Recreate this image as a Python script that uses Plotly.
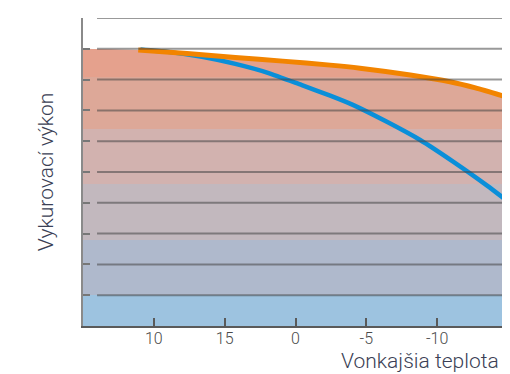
import plotly.graph_objects as go

# outdoor temperature positions (axis units) and tick labels
tick_pos = [1, 2, 3, 4, 5, 6]
tick_text = ['10', '15', '0', '-5', '-10', '-15']

# heating output curves
orange_x = [0.78, 1.47, 2.15, 2.82, 3.49, 3.91, 4.62, 5.18, 5.54, 6.0]
orange_y = [8.96, 8.85, 8.72, 8.60, 8.47, 8.37, 8.15, 7.93, 7.73, 7.42]
blue_x = [0.81, 1.20, 1.68, 2.15, 2.61, 3.09, 3.49, 3.81, 4.29, 4.76, 5.23, 5.71, 6.0]
blue_y = [8.98, 8.90, 8.74, 8.51, 8.22, 7.82, 7.48, 7.18, 6.63, 6.04, 5.33, 4.55, 4.04]

# flat part of the area left of the curves
area_start_x = 0
area_start_y = 9.0

# colour bands of the area (bottom edge, colour)
band_edges = [0, 1.0, 2.8, 4.6, 6.4, 8.1, 9.0]
band_colors = ['#9DC3E0', '#AFB9CC', '#C2B8BE', '#D2B2AF', '#DDA898', '#E5A18D']

grid_levels = [1, 2, 3, 4, 5, 6, 7, 8, 9, 10]

#build a stepped colorscale from the bands
top = band_edges[-1]
cscale = []
for i in range(len(band_colors)):
    cscale.append([band_edges[i] / top, band_colors[i]])
    cscale.append([band_edges[i + 1] / top, band_colors[i]])

fig = go.Figure()

fig.add_trace(go.Scatter(
    x=[area_start_x] + orange_x, y=[area_start_y] + orange_y,
    mode='lines', line=dict(width=0, shape='spline', smoothing=0.6),
    fill='tozeroy',
    fillgradient=dict(type='vertical', colorscale=cscale, start=0, stop=top),
    hoverinfo='skip', showlegend=False))

fig.add_trace(go.Scatter(x=blue_x, y=blue_y, mode='lines',
                         line=dict(color='#0A8FD9', width=4.5, shape='spline', smoothing=0.6),
                         showlegend=False))
fig.add_trace(go.Scatter(x=orange_x, y=orange_y, mode='lines',
                         line=dict(color='#F28400', width=5, shape='spline', smoothing=0.6),
                         showlegend=False))

#gridlines on top of the area, with a small gap after the axis
for g in grid_levels:
    fig.add_shape(type='line', xref='paper', yref='y', x0=0.033, x1=1, y0=g, y1=g,
                  line=dict(color='rgba(70,70,70,0.55)', width=2), layer='above')

fig.add_annotation(text='Vonkajšia teplota', xref='paper', yref='paper', x=0.9835, y=-0.068,
                   xanchor='right', yanchor='top', showarrow=False,
                   font=dict(family='Roboto', size=21, color='#3B3F55', weight=300))

fig.update_xaxes(range=[0, 6], tickvals=tick_pos, ticktext=tick_text,
                 showgrid=False, zeroline=False, automargin=False,
                 showline=True, linecolor='#5A5A5A', linewidth=2,
                 ticks='inside', ticklen=8, tickwidth=2, tickcolor='#5A5A5A',
                 ticklabelstandoff=-3,
                 tickfont=dict(family='Roboto', size=16, color='#4A4A4A', weight=300))
fig.update_yaxes(range=[0, 10], tickvals=grid_levels, showticklabels=False,
                 showgrid=False, zeroline=False, automargin=False,
                 showline=True, linecolor='#8A8A8A', linewidth=2,
                 ticks='inside', ticklen=7, tickwidth=2, tickcolor='#777777',
                 title=dict(text='Vykurovací výkon', standoff=22,
                            font=dict(family='Roboto', size=21, color='#3B3F55', weight=300)))

# page body keeps an 8px margin, so the figure is sized and offset for it
fig.update_layout(width=502, height=366,
                  margin=dict(l=75, r=2, t=10, b=48),
                  plot_bgcolor='white', paper_bgcolor='white')

fig.write_html("out.html")
